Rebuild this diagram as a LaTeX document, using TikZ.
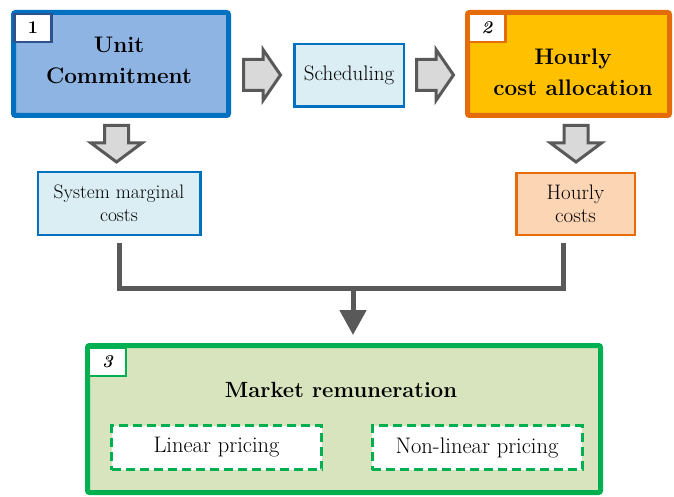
\documentclass[tikz,border=0pt]{standalone}
\usetikzlibrary{arrows.meta,calc}
\definecolor{ucblue}{HTML}{0070C0}
\definecolor{ucfill}{HTML}{8EB4E3}
\definecolor{lblue}{HTML}{DBEEF4}
\definecolor{numblue}{HTML}{2F528F}
\definecolor{orng}{HTML}{E46C0A}
\definecolor{gold}{HTML}{FFC000}
\definecolor{peach}{HTML}{FCD5B5}
\definecolor{grn}{HTML}{00B050}
\definecolor{grnfill}{HTML}{D7E4BD}
\definecolor{agray}{HTML}{D9D9D9}
\definecolor{dgray}{HTML}{595959}
\begin{document}
\begin{tikzpicture}[x=1pt,y=-1pt,
  bigbox/.style={rectangle,line width=5pt,rounded corners=2pt,inner sep=0pt},
  numbox/.style={rectangle,fill=white,line width=2.5pt,inner sep=0pt,minimum width=37,minimum height=28,
     font=\fontsize{18}{20}\selectfont\bfseries},
  smallbox/.style={rectangle,line width=2.5pt,inner sep=0pt,align=center},
  titletext/.style={align=center,inner sep=0pt,font=\fontsize{22.5}{31}\selectfont\bfseries},
  dashbox/.style={rectangle,fill=white,draw=grn,line width=3pt,dash pattern=on 9pt off 5pt,
     minimum width=210,minimum height=44,inner sep=0pt,font=\fontsize{22.5}{26}\selectfont},
  blockarrow/.style={draw=dgray,fill=agray,line width=3pt,line join=miter},
  conn/.style={draw=dgray,line width=5pt,line join=miter},
]
\useasboundingbox (0,0) rectangle (674,497);

% Box 1
\node[bigbox,draw=ucblue,fill=ucfill,minimum width=215,minimum height=103] (uc) at (121,64) {};
\node[numbox,draw=numblue] (n1) at (33,28) {1};
\node[titletext] (uct) at (119,60) {Unit\\Commitment};

% Box 2
\node[bigbox,draw=orng,fill=gold,minimum width=202,minimum height=103] (hca) at (568.5,64) {};
\node[numbox,draw=orng] (n2) at (487,28) {\itshape 2};
\node[titletext] (hcat) at (573,72) {Hourly\\cost allocation};

% Scheduling
\node[smallbox,draw=ucblue,fill=lblue,minimum width=109.5,minimum height=62.5,
  font=\fontsize{21}{24}\selectfont] (sch) at (349,75.5) {Scheduling};

% Right block arrows
\draw[blockarrow] (243.5,59.5) -- (263,59.5) -- (263,49.5) -- (280.5,75) -- (263,100.5) -- (263,90.5) -- (243.5,90.5) -- cycle;
\draw[blockarrow] (416.5,59.5) -- (436,59.5) -- (436,49.5) -- (453.5,75) -- (436,100.5) -- (436,90.5) -- (416.5,90.5) -- cycle;

% Down block arrows
\draw[blockarrow] (104.5,125.5) -- (128.5,125.5) -- (128.5,143) -- (142,143) -- (116.5,162) -- (91,143) -- (104.5,143) -- cycle;
\draw[blockarrow] (564,125.5) -- (588,125.5) -- (588,143) -- (601.5,143) -- (576,162) -- (550.5,143) -- (564,143) -- cycle;

% Result boxes
\node[smallbox,draw=ucblue,fill=lblue,minimum width=162.5,minimum height=62.5,
  font=\fontsize{19.5}{23}\selectfont] (sys) at (119,203.5) {System marginal\\costs};
\node[smallbox,draw=orng,fill=peach,minimum width=118.5,minimum height=61.5,
  font=\fontsize{21}{23}\selectfont] (hc) at (575.5,204) {Hourly\\costs};

% Green box
\node[bigbox,draw=grn,fill=grnfill,minimum width=513,minimum height=147] (mr) at (344,419) {};
\node[numbox,draw=grn] (n3) at (107.5,362) {\itshape 3};
\node[titletext,font=\fontsize{22}{26}\selectfont\bfseries] (mrt) at (341,390) {Market remuneration};
\node[dashbox] (lp) at (216.5,447.5) {Linear pricing};
\node[dashbox] (nlp) at (477,447.5) {Non-linear pricing};

% Connectors
\coordinate (sb) at ([yshift=-7pt]sys.south);
\coordinate (hb) at ([xshift=-12pt,yshift=-7pt]hc.south);
\coordinate (j) at (353,288.5);
\coordinate (gtop) at ([yshift=8pt]mr.north);
\draw[conn] (sb) |- (j) -| (hb);
\draw[conn,-{Triangle[width=26pt,length=25pt]}] (j) -- (j |- gtop);
\end{tikzpicture}
\end{document}
